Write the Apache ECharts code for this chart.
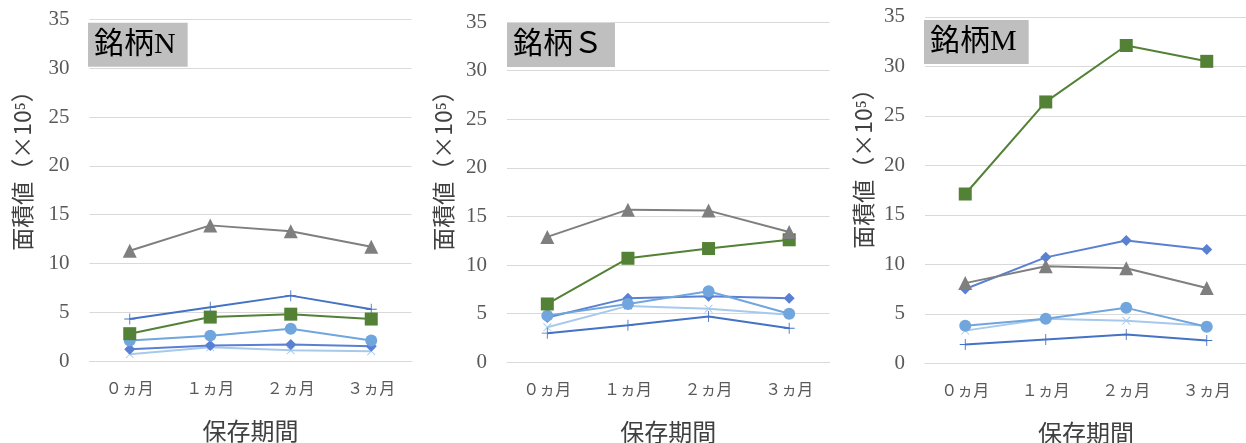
<!DOCTYPE html>
<html>
<head>
<meta charset="utf-8">
<script src="https://cdn.jsdelivr.net/npm/echarts@6/dist/echarts.min.js"></script>
<style>
html,body{margin:0;padding:0;background:#fff;}
#main{width:1246px;height:443px;}
</style>
</head>
<body>
<div id="main"></div>
<script>
// 横軸
var months = ['０ヵ月', '１ヵ月', '２ヵ月', '３ヵ月'];

// 銘柄N
var triN = [11.3, 13.9, 13.3, 11.7];
var sqN = [2.8, 4.5, 4.8, 4.3];
var plusN = [4.3, 5.5, 6.7, 5.3];
var circN = [2.1, 2.6, 3.3, 2.1];
var diaN = [1.2, 1.6, 1.7, 1.5];
var crossN = [0.7, 1.4, 1.1, 1.0];

// 銘柄S
var triS = [12.9, 15.7, 15.6, 13.4];
var sqS = [6.0, 10.7, 11.7, 12.6];
var plusS = [3.0, 3.8, 4.7, 3.5];
var circS = [4.8, 6.0, 7.3, 5.0];
var diaS = [4.6, 6.6, 6.8, 6.6];
var crossS = [3.6, 5.8, 5.5, 4.9];

// 銘柄M
var triM = [8.1, 9.8, 9.6, 7.6];
var sqM = [17.1, 26.4, 32.1, 30.5];
var plusM = [1.9, 2.4, 2.9, 2.3];
var circM = [3.8, 4.5, 5.6, 3.7];
var diaM = [7.5, 10.7, 12.4, 11.5];
var crossM = [3.3, 4.5, 4.3, 3.8];

var panels = [
    {name: '銘柄N', d: [triN, sqN, plusN, circN, diaN, crossN]},
    {name: '銘柄Ｓ', d: [triS, sqS, plusS, circS, diaS, crossS]},
    {name: '銘柄M', d: [triM, sqM, plusM, circM, diaM, crossM]}
];

var grids = [
    {left: 89.5, width: 322, top: 19.5, height: 341.5, outerBoundsMode: 'none'},
    {left: 507, width: 322.5, top: 22, height: 340.3, outerBoundsMode: 'none'},
    {left: 925, width: 322, top: 16.8, height: 346.5, outerBoundsMode: 'none'}
];
var titlePos = [[88, 22.7], [507, 23], [924, 20]];
var yNamePos = [[22, 165], [443, 165], [863, 163]];

var plusPath = 'path://M4.6,0 h0.8 v4.6 h4.6 v0.8 h-4.6 v4.6 h-0.8 v-4.6 h-4.6 v-0.8 h4.6 z';

// 系列の見た目
var styles = [
    {color: '#7f7f7f', symbol: 'triangle', size: 14, rot: 0},
    {color: '#538135', symbol: 'rect', size: 13, rot: 0},
    {color: '#4472c4', symbol: plusPath, size: 11, rot: 0},
    {color: '#70a6dd', symbol: 'circle', size: 12, rot: 0},
    {color: '#5a80d4', symbol: 'diamond', size: 11, rot: 0},
    {color: '#a7c9ec', symbol: plusPath, size: 11, rot: 45}
];

var xAxes = [], yAxes = [], series = [], titles = [], graphics = [];
for (var p = 0; p < 3; p++) {
    xAxes.push({
        type: 'category', gridIndex: p, data: months, boundaryGap: true,
        axisLine: {lineStyle: {color: '#d9d9d9'}},
        axisTick: {show: false},
        axisLabel: {color: '#595959', fontSize: 16, margin: 19, fontFamily: 'Noto Sans CJK JP'},
        name: '保存期間', nameLocation: 'middle', nameGap: 58,
        nameTextStyle: {color: '#404040', fontSize: 24, fontFamily: 'Noto Sans CJK JP'}
    });
    yAxes.push({
        type: 'value', gridIndex: p, min: 0, max: 35, interval: 5,
        axisLine: {show: false}, axisTick: {show: false},
        splitLine: {lineStyle: {color: '#d9d9d9', width: 1}},
        axisLabel: {color: '#595959', fontSize: 21, margin: 20, fontFamily: 'Liberation Serif'}
    });
    for (var s = 0; s < 6; s++) {
        series.push({
            type: 'line', xAxisIndex: p, yAxisIndex: p,
            data: panels[p].d[s],
            symbol: styles[s].symbol, symbolSize: styles[s].size, symbolRotate: styles[s].rot,
            showAllSymbol: true,
            lineStyle: {color: styles[s].color, width: 2},
            itemStyle: {color: styles[s].color},
            z: 10 - s,
            animation: false
        });
    }
    titles.push({
        text: panels[p].name, left: titlePos[p][0], top: titlePos[p][1],
        backgroundColor: '#bfbfbf', padding: [6, 12, 6, 6],
        textStyle: {color: '#000', fontSize: 30, fontWeight: 'normal',
            fontFamily: 'Liberation Serif, Noto Sans CJK JP', lineHeight: 32}
    });
    // 縦軸名（下から上へ）
    graphics.push({
        type: 'text', x: yNamePos[p][0], y: yNamePos[p][1], rotation: Math.PI / 2,
        style: {text: '面積値（×10⁵）', fill: '#404040', fontSize: 23,
            fontFamily: 'Noto Sans CJK JP', align: 'center', verticalAlign: 'middle'}
    });
}

var myChart = echarts.init(document.getElementById('main'));
myChart.setOption({
    animation: false,
    backgroundColor: '#fff',
    title: titles,
    grid: grids,
    xAxis: xAxes,
    yAxis: yAxes,
    series: series,
    graphic: graphics
});
</script>
</body>
</html>
